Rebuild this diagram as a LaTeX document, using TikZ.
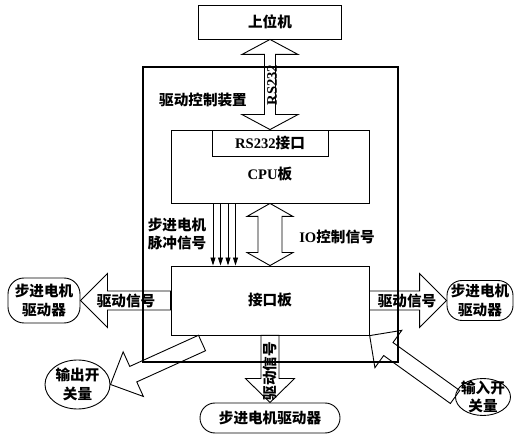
\documentclass[tikz,border=0pt]{standalone}
\usepackage{fontspec}
\setmainfont{Liberation Serif}
\newfontfamily\cjk{Noto Sans CJK SC}
\usetikzlibrary{calc,shapes.geometric,arrows.meta}
\newcommand\zh[1]{{\cjk #1}}
\tikzset{
  box/.style={draw, line width=0.9pt, inner sep=1pt},
  txt/.style={font=\fontsize{14.6}{18.5}\selectfont\bfseries, align=center, inner sep=1pt},
  fat/.style={draw, line width=0.9pt, line join=miter},
  pulse/.style={line width=0.8pt, -{Triangle[length=8pt,width=5pt]}},
  ell/.style={draw, ellipse, line width=0.9pt, inner sep=0pt},
}
% #1 from, #2 to, #3 shaft half width, #4 head half width, #5 head length, #6 1=double 0=single
\newcommand\fatarrow[6]{%
  \path let \p1=(#1), \p2=(#2) in \pgfextra{%
    \pgfmathsetmacro\fatlenA{veclen(\x2-\x1,\y2-\y1)}%
    \pgfmathsetmacro\fatangA{atan2(\y2-\y1,\x2-\x1)}%
    \xdef\fatlen{\fatlenA}\xdef\fatang{\fatangA}};
  \begin{scope}[shift={(#1)}, rotate=\fatang, x=1pt, y=1pt]
    \ifnum#6=1
      \draw[fat] (0,0) -- (#5,#4) -- (#5,#3) -- (\fatlen-#5,#3) -- (\fatlen-#5,#4)
        -- (\fatlen,0) -- (\fatlen-#5,-#4) -- (\fatlen-#5,-#3) -- (#5,-#3) -- (#5,-#4) -- cycle;
    \else
      \draw[fat] (0,#3) -- (\fatlen-#5,#3) -- (\fatlen-#5,#4) -- (\fatlen,0)
        -- (\fatlen-#5,-#4) -- (\fatlen-#5,-#3) -- (0,-#3) -- cycle;
    \fi
  \end{scope}}
\begin{document}
\begin{tikzpicture}[x=1pt,y=-1pt]
\useasboundingbox (0,0) rectangle (525,446);
% boxes
\node[box, txt, minimum width=143pt, minimum height=34pt] (pc) at (270,22) {\zh{上位机}};
\node[draw, line width=1.6pt, minimum width=255pt, minimum height=295pt] (dev) at (270.5,214.5) {};
\node[txt] (devlbl) at (203,100) {\zh{驱动控制装置}};
\node[box, minimum width=198pt, minimum height=73pt] (cpu) at (270,166.5) {};
\node[box, txt, minimum width=116pt, minimum height=26pt, anchor=north] (rsif) at (cpu.north) {RS232\zh{接口}};
\node[txt] (cpulbl) at (270,174) {CPU\zh{板}};
\node[box, txt, minimum width=198pt, minimum height=69pt] (iface) at (270,300.5) {\zh{接口板}};
% side drivers
\node[box, txt, rounded corners=16pt, minimum width=72pt, minimum height=45pt] (ldrv) at (44,300.5) {\zh{步进电机}\\\zh{驱动器}};
\node[box, txt, rounded corners=15pt, minimum width=66pt, minimum height=40pt] (rdrv) at (480,300.5) {\zh{步进电机}\\\zh{驱动器}};
\node[box, txt, rounded corners=15pt, minimum width=140pt, minimum height=30pt] (bdrv) at (270,418) {\zh{步进电机驱动器}};
% switches
\node[ell, minimum width=65pt, minimum height=49pt] (outsw) at (77.5,384.5) {};
\node[txt] (outswlbl) at (outsw.center) {\zh{输出开}\\\zh{关量}};
\node[ell, minimum width=55pt, minimum height=37pt] (insw) at (483,397) {};
\node[txt] (inswlbl) at (insw.center) {\zh{输入开}\\\zh{关量}};
\coordinate (outS) at (202,343);
% fat arrows
\fatarrow{pc.south}{rsif.north}{5.5}{28}{15}{1}
\fatarrow{cpu.south}{iface.north}{12}{23}{13}{1}
\fatarrow{iface.west}{ldrv.east}{9.5}{27}{27}{0}
\fatarrow{iface.east}{rdrv.west}{9.5}{27}{27}{0}
\fatarrow{iface.south}{bdrv.north}{9}{24.5}{24}{0}
\fatarrow{outS}{outsw.east}{8.5}{24.5}{25}{0}
\fatarrow{insw.west}{iface.south east}{8}{23}{23}{0}
% pulse lines
\foreach \dx in {-57,-49.5,-42,-34.5}
  \draw[pulse] ($(cpu.south)+(\dx,0)$) -- ($(iface.north)+(\dx,0)$);
% labels
\node[txt, rotate=90] (rslbl) at (272,85) {RS232};
\node[txt] (iolbl) at (337,237) {IO\zh{控制信号}};
\node[txt] (plbl) at (177,234) {\zh{步进电机}\\\zh{脉冲信号}};
\node[txt] (llbl) at (126,301) {\zh{驱动信号}};
\node[txt] (rlbl) at (407,301) {\zh{驱动信号}};
\node[txt, rotate=90] (blbl) at (270,371) {\zh{驱动信号}};
\end{tikzpicture}
\end{document}
